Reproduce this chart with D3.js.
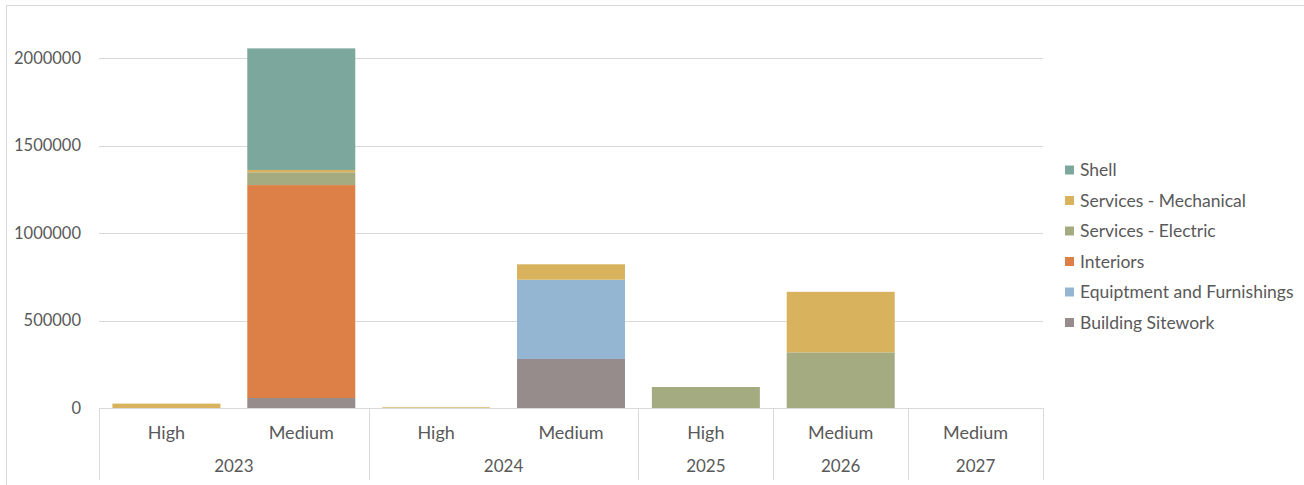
<!DOCTYPE html>
<html>
<head>
<meta charset="utf-8">
<script src="https://cdn.jsdelivr.net/npm/d3@7"></script>
<style>
  html, body { margin: 0; padding: 0; background: #fff; }
  svg { display: block; font-family: Lato, "Open Sans", sans-serif; }
</style>
</head>
<body>
<svg id="chart" width="1304" height="485"></svg>
<script>
// Categories (year, level)
const years = ["2023", "2023", "2024", "2024", "2025", "2026", "2027"];
const levels = ["High", "Medium", "High", "Medium", "High", "Medium", "Medium"];
// Series (stack order bottom -> top)
const seriesNames = ["Building Sitework", "Equiptment and Furnishings", "Interiors", "Services - Electric", "Services - Mechanical", "Shell"];
const buildingSitework = [0, 57000, 0, 280000, 0, 0, 0];
const equipmentFurnishings = [0, 0, 0, 453000, 0, 0, 0];
const interiors = [0, 1217000, 0, 0, 0, 0, 0];
const servicesElectric = [0, 73000, 0, 0, 120000, 318000, 0];
const servicesMechanical = [25000, 13000, 4000, 88000, 0, 346000, 0];
const shell = [0, 695000, 0, 0, 0, 0, 0];
const yTicks = [0, 500000, 1000000, 1500000, 2000000];
const colors = ["#968C8C", "#94B6D2", "#DD8047", "#A5AB81", "#D8B25C", "#7BA79D"];

const seriesValues = [buildingSitework, equipmentFurnishings, interiors, servicesElectric, servicesMechanical, shell];
const rows = years.map((y, i) => {
  const r = { key: i, year: y, level: levels[i] };
  seriesNames.forEach((s, k) => r[s] = seriesValues[k][i]);
  return r;
});

const svg = d3.select("#chart");
const textColor = "#595959";
const gridColor = "#D9D9D9";

// chart area border (left/top)
svg.append("line").attr("x1", 6.5).attr("x2", 6.5).attr("y1", 5).attr("y2", 485).attr("stroke", gridColor);
svg.append("line").attr("x1", 6).attr("x2", 1304).attr("y1", 5.5).attr("y2", 5.5).attr("stroke", gridColor);

const plotLeft = 99, plotRight = 1043, plotTop = 58, plotBottom = 408;

const x = d3.scaleBand().domain(d3.range(years.length)).range([plotLeft, plotRight]).paddingInner(0.2).paddingOuter(0.1);
const y = d3.scaleLinear().domain([0, 2000000]).range([plotBottom, plotTop]);

// gridlines
svg.append("g").selectAll("line").data(yTicks.filter(t => t > 0)).join("line")
  .attr("x1", plotLeft).attr("x2", plotRight)
  .attr("y1", d => Math.round(y(d)) + 0.5).attr("y2", d => Math.round(y(d)) + 0.5)
  .attr("stroke", gridColor).attr("stroke-width", 1);

// y axis labels
const yAxis = d3.axisLeft(y).tickValues(yTicks).tickSize(0).tickPadding(0).tickFormat(d3.format("d"));
const yg = svg.append("g").attr("transform", `translate(${81},0)`).call(yAxis);
yg.select(".domain").remove();
yg.selectAll("text").attr("fill", textColor).style("font-size", "16.5px").style("font-family", "Lato, 'Open Sans', sans-serif");

// stacked bars
const stack = d3.stack().keys(seriesNames);
const stacked = stack(rows);
const bw = 108;
svg.append("g").selectAll("g").data(stacked).join("g")
  .attr("fill", (d, i) => colors[i])
  .selectAll("rect").data(d => d).join("rect")
  .attr("x", d => x(d.data.key) + x.bandwidth() / 2 - bw / 2)
  .attr("width", bw)
  .attr("y", d => y(d[1]))
  .attr("height", d => Math.max(0, y(d[0]) - y(d[1])));

// x axis baseline
svg.append("line").attr("x1", plotLeft).attr("x2", plotRight)
  .attr("y1", plotBottom + 0.5).attr("y2", plotBottom + 0.5).attr("stroke", gridColor);

// step = width of one category slot
const step = (plotRight - plotLeft) / years.length;
const slotCenter = i => plotLeft + step * (i + 0.5);

// level labels
svg.append("g").selectAll("text").data(levels).join("text")
  .attr("x", (d, i) => slotCenter(i)).attr("y", 439)
  .attr("text-anchor", "middle").attr("fill", textColor).style("font-size", "18px")
  .text(d => d);

// year groups
const groups = [];
years.forEach((yv, i) => {
  if (groups.length && groups[groups.length - 1].year === yv) groups[groups.length - 1].end = i;
  else groups.push({ year: yv, start: i, end: i });
});
svg.append("g").selectAll("text").data(groups).join("text")
  .attr("x", g => (plotLeft + step * g.start + plotLeft + step * (g.end + 1)) / 2).attr("y", 472)
  .attr("text-anchor", "middle").attr("fill", textColor).style("font-size", "17px")
  .text(g => g.year);

// group separators
const seps = [plotLeft].concat(groups.map(g => plotLeft + step * (g.end + 1)));
svg.append("g").selectAll("line").data(seps).join("line")
  .attr("x1", d => Math.round(d) + 0.5).attr("x2", d => Math.round(d) + 0.5)
  .attr("y1", plotBottom).attr("y2", 480).attr("stroke", gridColor);

// legend (reverse order)
const legendItems = seriesNames.map((s, i) => ({ name: s, color: colors[i] })).reverse();
const lg = svg.append("g").selectAll("g").data(legendItems).join("g")
  .attr("transform", (d, i) => `translate(1065, ${170 + i * 30.5})`);
lg.append("rect").attr("x", 0).attr("y", -4.5).attr("width", 9).attr("height", 9).attr("fill", d => d.color);
lg.append("text").attr("x", 15).attr("y", 0).attr("dy", "0.35em")
  .attr("fill", textColor).style("font-size", "17.5px").text(d => d.name);
</script>
</body>
</html>
